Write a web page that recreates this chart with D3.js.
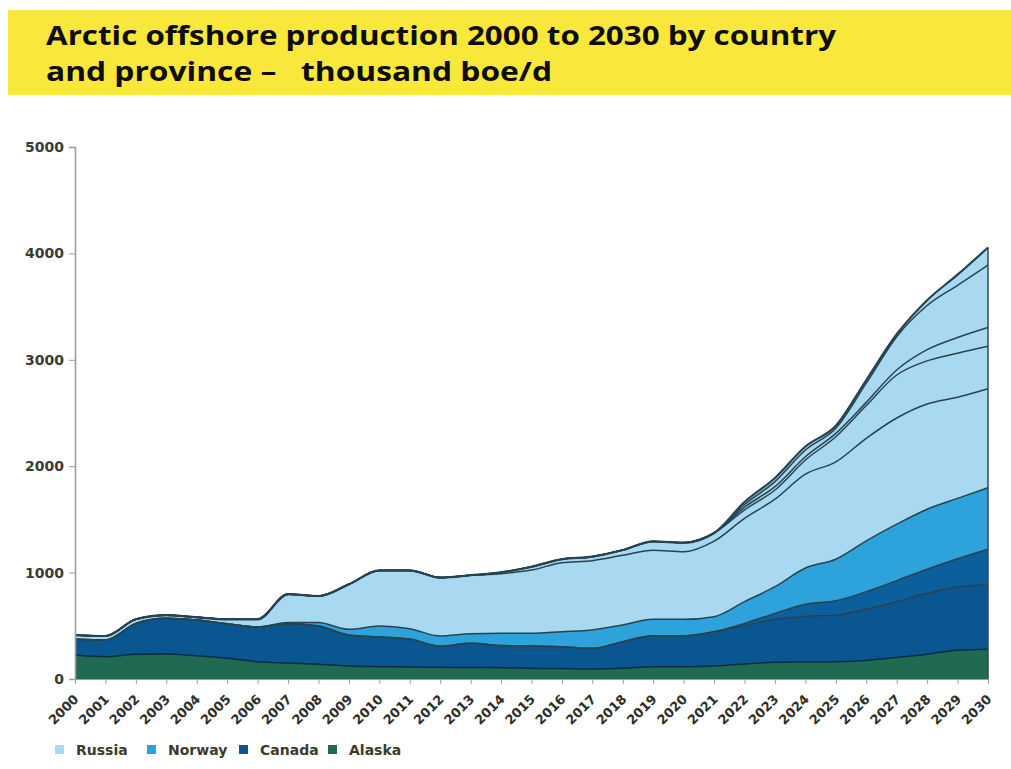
<!DOCTYPE html>
<html>
<head>
<meta charset="utf-8">
<script src="https://cdn.jsdelivr.net/npm/d3@7"></script>
<style>
  body { margin: 0; background: #fff; }
  svg { display: block; font-family: "Open Sans", sans-serif; }
</style>
</head>
<body>
<div id="chart"></div>
<script>
// years on the x axis
const years = [2000,2001,2002,2003,2004,2005,2006,2007,2008,2009,2010,2011,2012,2013,2014,2015,
  2016,2017,2018,2019,2020,2021,2022,2023,2024,2025,2026,2027,2028,2029,2030]

// production by province, thousand boe/d
const alaska  = [225,210,232,235,219,194,163,150,138,122,116,113,110,108,105,100,98,95,100,116,116,122,141,157,160,163,174,202,233,270,279]
const canadaA = [148,157,291,335,335,326,327,370,360,292,279,262,197,227,210,210,206,193,251,291,291,323,360,405,429,437,482,524,572,595,604]
const canadaB = [0,0,0,0,0,0,0,0,0,0,0,0,0,0,0,0,0,0,0,0,0,0,22,55,114,135,165,199,227,265,336]
const norway  = [0,0,0,0,0,0,0,12,32,53,103,98,97,91,114,119,141,173,157,154,154,141,204,251,340,391,477,530,564,568,578]
const russia1 = [40,37,38,30,26,41,71,265,250,423,522,547,549,549,561,595,648,651,654,649,634,709,783,822,882,914,964,998,989,950,931]
const russia2 = [0,0,0,0,0,0,0,0,0,0,0,0,0,0,12,31,33,38,50,83,86,77,80,86,133,237,308,404,405,414,399]
const russia3 = [0,0,0,0,0,0,0,0,0,0,0,0,0,0,0,0,0,0,0,0,0,0,25,32,31,32,30,47,105,148,177]
const russia4 = [0,0,0,0,0,0,0,0,0,0,0,0,0,0,0,0,0,0,0,0,0,0,25,47,63,48,180,313,415,490,587]
const russia5 = [0,0,0,0,0,0,0,0,0,0,0,0,0,0,0,0,0,0,0,0,0,0,23,34,33,23,30,23,50,100,164]

const yTicks = [0,1000,2000,3000,4000,5000]
const legendNames = ["Russia","Norway","Canada","Alaska"]

const colors = {Russia:"#a8d9f1", Norway:"#2ea2da", Canada:"#0a5690", CanadaB:"#0b5f9b", Alaska:"#1f6a50"}

// layers bottom to top
const layers = [
  {key:"alaska",  values:alaska,  fill:colors.Alaska},
  {key:"canadaA", values:canadaA, fill:colors.Canada},
  {key:"canadaB", values:canadaB, fill:colors.CanadaB},
  {key:"norway",  values:norway,  fill:colors.Norway},
  {key:"russia1", values:russia1, fill:colors.Russia},
  {key:"russia2", values:russia2, fill:colors.Russia},
  {key:"russia3", values:russia3, fill:colors.Russia},
  {key:"russia4", values:russia4, fill:colors.Russia},
  {key:"russia5", values:russia5, fill:colors.Russia}
]

const table = years.map((yr,i) => {
  let row = {year: yr}
  layers.forEach(l => row[l.key] = l.values[i])
  return row
})

const width = 1011, height = 769
const plotLeft = 75, plotRight = 988, plotTop = 147, plotBottom = 679
const labelFont = "DejaVu Sans"

let svg = d3.select("#chart").append("svg")
  .attr("width", width)
  .attr("height", height)

// title band
svg.append("rect")
  .attr("x", 8).attr("y", 10)
  .attr("width", width - 8).attr("height", 85)
  .attr("fill", "#fae73c")

svg.append("text")
  .attr("x", 46).attr("y", 45)
  .attr("font-size", 27).attr("font-weight", 700)
  .attr("fill", "#0d0d0d")
  .attr("textLength", 790).attr("lengthAdjust", "spacingAndGlyphs")
  .text("Arctic offshore production 2000 to 2030 by country")
svg.append("text")
  .attr("x", 46).attr("y", 81)
  .attr("font-size", 27).attr("font-weight", 700)
  .attr("fill", "#0d0d0d")
  .style("white-space", "pre")
  .attr("textLength", 506).attr("lengthAdjust", "spacingAndGlyphs")
  .text("and province –   thousand boe/d")

let x = d3.scaleLinear().domain([2000, 2030]).range([plotLeft, plotRight])
let y = d3.scaleLinear().domain([0, 5000]).range([plotBottom, plotTop])

let stack = d3.stack().keys(layers.map(l => l.key))
let series = stack(table)

let area = d3.area()
  .x(d => x(d.data.year))
  .y0(d => y(d[0]))
  .y1(d => y(d[1]))
  .curve(d3.curveMonotoneX)

let line = d3.line()
  .x(d => x(d.data.year))
  .y(d => y(d[1]))
  .curve(d3.curveMonotoneX)

svg.append("g").selectAll("path")
  .data(series)
  .enter().append("path")
  .attr("d", area)
  .attr("fill", (d,i) => layers[i].fill)

// outlines of each layer
svg.append("g").selectAll("path")
  .data(series)
  .enter().append("path")
  .attr("d", line)
  .attr("fill", "none")
  .attr("stroke", (d,i) => i == 0 ? "#0b2c47" : "#26434f")
  .attr("stroke-width", (d,i) => i == series.length - 1 ? 2.2 : 1.5)

// right edge
let last = series[series.length - 1][years.length - 1]
svg.append("line")
  .attr("x1", x(2030)).attr("x2", x(2030))
  .attr("y1", y(0)).attr("y2", y(last[1]))
  .attr("stroke", "#2f4a55").attr("stroke-width", 1.5)

// y axis
let yAxis = svg.append("g")
  .attr("transform", "translate(" + plotLeft + ",0)")
  .call(d3.axisLeft(y).tickValues(yTicks).tickSize(6).tickPadding(5).tickFormat(d3.format("d")))
yAxis.select(".domain").attr("stroke", "#9c9c9c").attr("stroke-width", 1.6)
yAxis.selectAll(".tick line").attr("stroke", "#9c9c9c")
yAxis.selectAll("text")
  .attr("font-size", 14).attr("font-weight", 700)
  .attr("font-family", labelFont).attr("fill", "#3b3b33")

// x axis
let xAxis = svg.append("g")
  .attr("transform", "translate(0," + plotBottom + ")")
  .call(d3.axisBottom(x).tickValues(years).tickSize(5).tickFormat(d3.format("d")))
xAxis.select(".domain").attr("stroke", "#9c9c9c")
xAxis.selectAll(".tick line").attr("stroke", "#9c9c9c")
xAxis.selectAll("text")
  .attr("font-size", 13).attr("font-weight", 700)
  .attr("font-family", labelFont).attr("fill", "#2f2f2a")
  .attr("text-anchor", "end")
  .attr("x", 0).attr("y", 0).attr("dy", 0)
  .attr("transform", "translate(4,21) rotate(-45)")

// legend
let legendX = [55, 147, 239, 328]
let legend = svg.append("g")
legendNames.forEach((name, i) => {
  legend.append("rect")
    .attr("x", legendX[i]).attr("y", 745)
    .attr("width", 9).attr("height", 9)
    .attr("fill", colors[name])
  legend.append("text")
    .attr("x", legendX[i] + 21).attr("y", 755)
    .attr("font-size", 14).attr("font-weight", 700)
    .attr("font-family", labelFont)
    .attr("fill", "#3d3a2c")
    .text(name)
})
</script>
</body>
</html>
